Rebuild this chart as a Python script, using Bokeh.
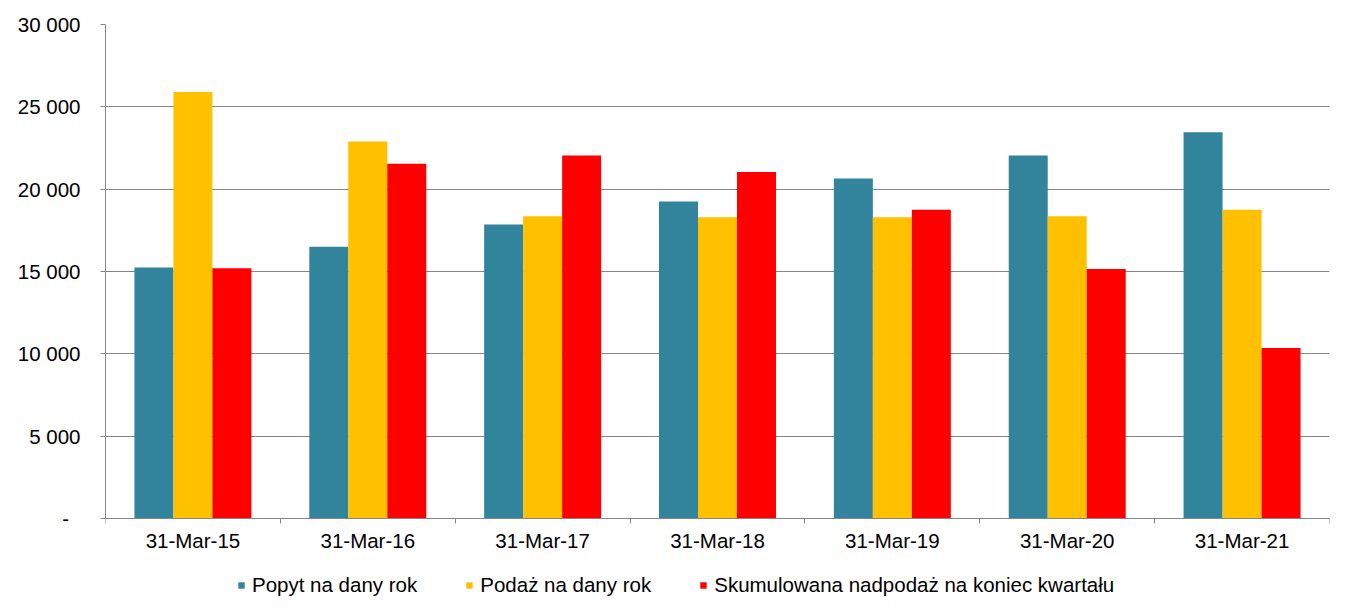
from bokeh.plotting import figure
from bokeh.models import ColumnDataSource, FixedTicker, Legend, LegendItem, Range1d
from bokeh.transform import dodge
from bokeh.embed import file_html
from bokeh.resources import INLINE

categories = ["31-Mar-15", "31-Mar-16", "31-Mar-17", "31-Mar-18", "31-Mar-19", "31-Mar-20", "31-Mar-21"]
popyt = [15250, 16500, 17850, 19250, 20650, 22050, 23450]
podaz = [25900, 22900, 18350, 18300, 18300, 18350, 18750]
nadpodaz = [15200, 21550, 22050, 21050, 18750, 15150, 10350]
series_names = ["Popyt na dany rok", "Podaż na dany rok", "Skumulowana nadpodaż na koniec kwartału"]
colors = ["#31849B", "#FFC000", "#FF0000"]
y_ticks = [0, 5000, 10000, 15000, 20000, 25000, 30000]
y_labels = ["-\u00a0\u00a0", "5 000", "10 000", "15 000", "20 000", "25 000", "30 000"]
y_max = 30000

idx = list(range(len(categories)))
src = ColumnDataSource(dict(x=idx, popyt=popyt, podaz=podaz, nadpodaz=nadpodaz))

FONT = "Liberation Sans"
FS = "20.5px"
GRAY = "#868686"

# plot area: 494 px for 0..30000, plus 90 px below zero to hold labels and legend
DATA_PX = 494
EXTRA_PX = 90
y_min = -y_max * EXTRA_PX / DATA_PX

p = figure(frame_width=1224, frame_height=DATA_PX + EXTRA_PX,
           x_range=Range1d(-0.5, len(categories) - 0.5), y_range=Range1d(y_min, y_max),
           output_backend="svg", toolbar_location=None,
           min_border_left=105, min_border_right=16, min_border_top=24, min_border_bottom=0)
p.outline_line_color = None
p.background_fill_color = "white"
p.border_fill_color = "white"

w = 0.223
r1 = p.vbar(x=dodge("x", -w, range=p.x_range), top="popyt", bottom=0, width=w, source=src,
            fill_color=colors[0], line_color=None)
r2 = p.vbar(x=dodge("x", 0, range=p.x_range), top="podaz", bottom=0, width=w, source=src,
            fill_color=colors[1], line_color=None)
r3 = p.vbar(x=dodge("x", w, range=p.x_range), top="nadpodaz", bottom=0, width=w, source=src,
            fill_color=colors[2], line_color=None)

# x axis, drawn at y = 0
p.xaxis.fixed_location = 0
p.xaxis.ticker = FixedTicker(ticks=idx, minor_ticks=[i - 0.5 for i in range(len(categories) + 1)])
p.xaxis.major_label_overrides = {i: c for i, c in zip(idx, categories)}
p.xaxis.major_tick_out = 0
p.xaxis.major_tick_in = 0
p.xaxis.minor_tick_out = 5
p.xaxis.minor_tick_in = 0
p.xaxis.minor_tick_line_color = GRAY
p.xaxis.axis_line_color = GRAY
p.xaxis.major_label_standoff = 5
p.xaxis.major_label_text_font = FONT
p.xaxis.major_label_text_font_size = FS
p.xaxis.major_label_text_color = "black"

# y axis
p.yaxis.bounds = (0, y_max)
p.yaxis.ticker = FixedTicker(ticks=y_ticks, minor_ticks=[])
p.yaxis.major_label_overrides = {t: l for t, l in zip(y_ticks, y_labels)}
p.yaxis.major_tick_out = 5
p.yaxis.major_tick_in = 0
p.yaxis.major_tick_line_color = GRAY
p.yaxis.minor_tick_line_color = None
p.yaxis.axis_line_color = GRAY
p.yaxis.major_label_standoff = 20
p.yaxis.major_label_text_font = FONT
p.yaxis.major_label_text_font_size = FS
p.yaxis.major_label_text_color = "black"

p.xgrid.grid_line_color = None
p.ygrid.ticker = FixedTicker(ticks=y_ticks, minor_ticks=[])
p.ygrid.grid_line_color = GRAY

legend = Legend(items=[LegendItem(label=series_names[0], renderers=[r1]),
                       LegendItem(label=series_names[1], renderers=[r2]),
                       LegendItem(label=series_names[2], renderers=[r3])],
                orientation="horizontal", location=(132, 11))
legend.glyph_width = 8
legend.glyph_height = 8
legend.label_standoff = 7
legend.spacing = 48
legend.padding = 0
legend.margin = 0
legend.border_line_color = None
legend.background_fill_alpha = 0
legend.label_text_font = FONT
legend.label_text_font_size = FS
legend.label_text_color = "black"
p.add_layout(legend, "center")

open("out.html", "w").write(file_html(p, INLINE))
